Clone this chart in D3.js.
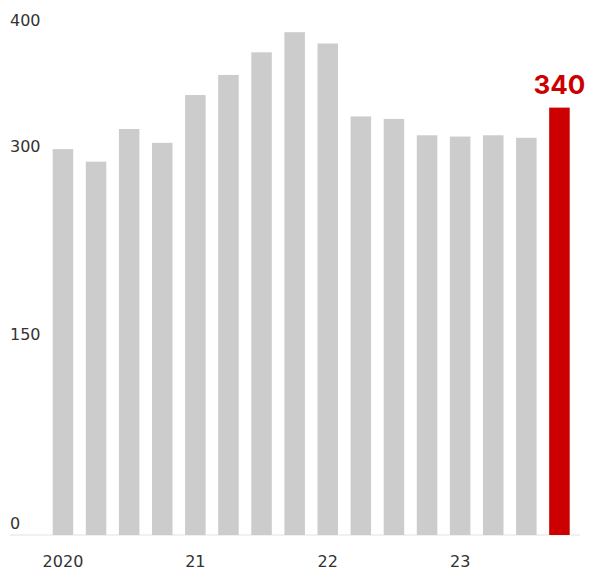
<!DOCTYPE html>
<html>
<head>
<meta charset="utf-8">
<script src="https://cdn.jsdelivr.net/npm/d3@7"></script>
<style>
  html, body { margin: 0; padding: 0; background: #fff; }
  svg { display: block; }
</style>
</head>
<body>
<svg id="chart" width="590" height="572"></svg>
<script>
// Quarterly values, 2020 Q1 through 2023 Q4
const quarters = ["2020Q1","2020Q2","2020Q3","2020Q4","2021Q1","2021Q2","2021Q3","2021Q4",
                  "2022Q1","2022Q2","2022Q3","2022Q4","2023Q1","2023Q2","2023Q3","2023Q4"];
const values = [307, 297, 323, 312, 350, 366, 384, 400, 391, 333, 331, 318, 317, 318, 316, 340];
const yTicks = [0, 150, 300, 400];
const xLabels = [{i: 0, text: "2020"}, {i: 4, text: "21"}, {i: 8, text: "22"}, {i: 12, text: "23"}];
const highlightIndex = 15;

const svg = d3.select("#chart");

const x = d3.scaleBand()
  .domain(quarters)
  .range([52.7, 569.7])
  .paddingInner(0.38)
  .paddingOuter(0);

const y = d3.scaleLinear()
  .domain([0, 400])
  .range([535, 32.2]);

const font = "'DejaVu Sans', sans-serif";

// baseline
svg.append("line")
  .attr("x1", 10).attr("x2", 580)
  .attr("y1", y(0)).attr("y2", y(0))
  .attr("stroke", "#e2e2e2").attr("stroke-width", 1);

// bars
svg.append("g").selectAll("rect")
  .data(values)
  .join("rect")
  .attr("x", (d, i) => x(quarters[i]))
  .attr("width", x.bandwidth())
  .attr("y", d => y(d))
  .attr("height", d => y(0) - y(d))
  .attr("fill", (d, i) => i === highlightIndex ? "#cc0000" : "#cccccc");

// y tick labels, sitting just above their value
svg.append("g").selectAll("text")
  .data(yTicks)
  .join("text")
  .attr("x", 10)
  .attr("y", d => y(d) - 6)
  .attr("font-family", font)
  .attr("font-size", 16)
  .attr("fill", "#333")
  .text(d => d);

// x labels at the first quarter of each year
svg.append("g").selectAll("text")
  .data(xLabels)
  .join("text")
  .attr("x", d => x(quarters[d.i]) + x.bandwidth() / 2)
  .attr("y", 567)
  .attr("text-anchor", "middle")
  .attr("font-family", font)
  .attr("font-size", 16)
  .attr("fill", "#333")
  .text(d => d.text);

// value label for the latest quarter
const last = values[highlightIndex];
svg.append("text")
  .attr("x", x(quarters[highlightIndex]) + x.bandwidth() / 2)
  .attr("y", y(last) - 14)
  .attr("text-anchor", "middle")
  .attr("font-family", "Inter, sans-serif")
  .attr("font-weight", 700)
  .attr("font-size", 26)
  .attr("fill", "#cc0000")
  .text(last);
</script>
</body>
</html>
